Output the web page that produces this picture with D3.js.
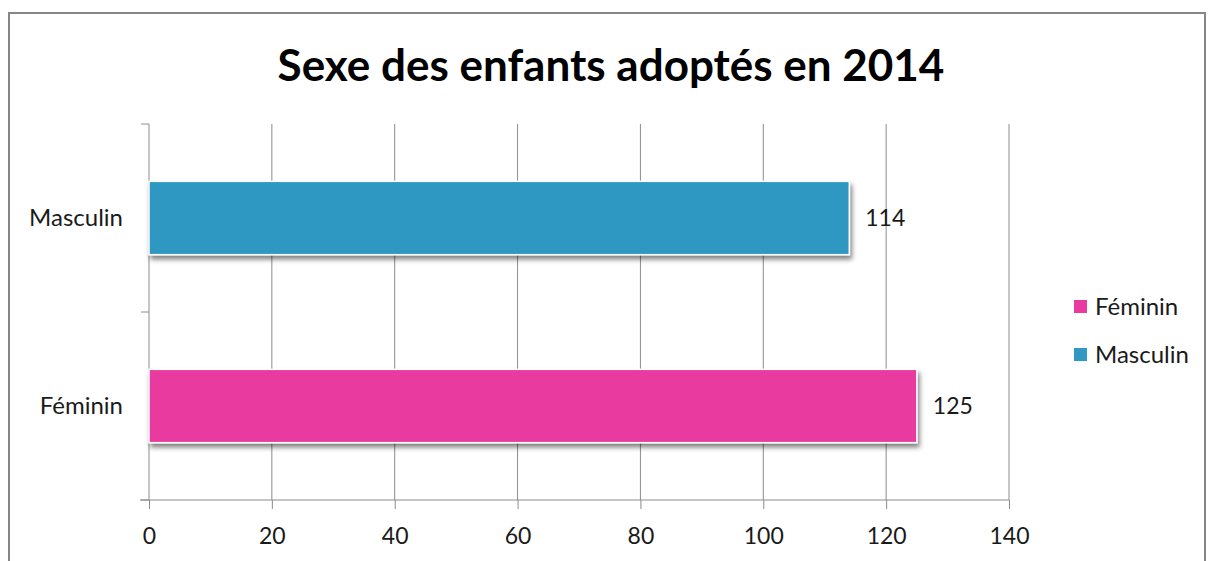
<!DOCTYPE html>
<html>
<head>
<meta charset="utf-8">
<script src="https://cdn.jsdelivr.net/npm/d3@7"></script>
<style>
  body { margin: 0; background: #fff; }
  svg text { font-family: Lato, "Open Sans", sans-serif; fill: #1a1a1a; }
</style>
</head>
<body>
<svg id="chart" width="1208" height="561"></svg>
<script>
// data
var categories = ["Masculin", "Féminin"];
var values = [114, 125];
var colors = ["#2f98c3", "#e93a9f"];
var legendLabels = ["Féminin", "Masculin"];
var legendColors = ["#e93a9f", "#2f98c3"];
var xTicks = [0, 20, 40, 60, 80, 100, 120, 140];

var svg = d3.select("#chart");
var plotLeft = 149, plotRight = 1009, plotTop = 124, plotBottom = 500;

// outer frame
svg.append("rect")
    .attr("x", 9).attr("y", 13)
    .attr("width", 1196).attr("height", 570)
    .attr("fill", "none")
    .attr("stroke", "#868686")
    .attr("stroke-width", 2);

svg.append("text")
    .attr("x", 611).attr("y", 81)
    .attr("text-anchor", "middle")
    .attr("font-size", 44)
    .attr("font-weight", "bold")
    .style("fill", "#000")
    .text("Sexe des enfants adoptés en 2014");

var defs = svg.append("defs");
var f = defs.append("filter").attr("id", "shadow")
    .attr("x", "-5%").attr("y", "-20%").attr("width", "115%").attr("height", "150%");
f.append("feGaussianBlur").attr("in", "SourceAlpha").attr("stdDeviation", 2.5);
f.append("feOffset").attr("dx", 2).attr("dy", 4).attr("result", "b");
f.append("feComponentTransfer").append("feFuncA").attr("type", "linear").attr("slope", 0.5);
var m = f.append("feMerge");
m.append("feMergeNode");
m.append("feMergeNode").attr("in", "SourceGraphic");

var x = d3.scaleLinear().domain([0, 140]).range([plotLeft, plotRight]);
var y = d3.scaleBand().domain(categories).range([plotTop, plotBottom]).paddingInner(0.61).paddingOuter(0.305);

// vertical grid lines
svg.append("g").selectAll("line")
    .data(xTicks.slice(1))
    .enter().append("line")
    .attr("x1", function(d){ return x(d); })
    .attr("x2", function(d){ return x(d); })
    .attr("y1", plotTop).attr("y2", plotBottom)
    .attr("stroke", "#8c8c8c").attr("stroke-width", 1);

// x axis
var xAxis = svg.append("g")
    .attr("transform", "translate(0," + plotBottom + ")")
    .call(d3.axisBottom(x).tickValues(xTicks).tickSize(9).tickPadding(19));
xAxis.select(".domain").remove();
xAxis.append("line").attr("x1", plotLeft - 9).attr("x2", plotRight).attr("stroke", "#8c8c8c");
xAxis.selectAll(".tick line").attr("stroke", "#8c8c8c");
xAxis.selectAll(".tick text").attr("font-size", 23).style("font-family", "Lato, sans-serif").style("fill", "#1a1a1a");

// y axis line + ticks between categories
svg.append("line")
    .attr("x1", plotLeft).attr("x2", plotLeft).attr("y1", plotTop).attr("y2", plotBottom)
    .attr("stroke", "#8c8c8c");
svg.append("g").selectAll("line")
    .data([plotTop, (plotTop + plotBottom) / 2, plotBottom])
    .enter().append("line")
    .attr("x1", plotLeft - 8).attr("x2", plotLeft)
    .attr("y1", function(d){ return d; }).attr("y2", function(d){ return d; })
    .attr("stroke", "#8c8c8c");

svg.append("g").selectAll("text")
    .data(categories)
    .enter().append("text")
    .attr("x", plotLeft - 26)
    .attr("y", function(d){ return y(d) + y.bandwidth() / 2; })
    .attr("dy", "0.35em")
    .attr("text-anchor", "end")
    .attr("font-size", 24)
    .text(function(d){ return d; });

// bars
svg.append("g").selectAll("rect")
    .data(values)
    .enter().append("rect")
    .attr("x", x(0))
    .attr("y", function(d, i){ return y(categories[i]); })
    .attr("width", function(d){ return x(d) - x(0); })
    .attr("height", y.bandwidth())
    .attr("fill", function(d, i){ return colors[i]; })
    .attr("stroke", "#ffffff")
    .attr("stroke-width", 1.5)
    .attr("filter", "url(#shadow)");

svg.append("g").selectAll("text")
    .data(values)
    .enter().append("text")
    .attr("x", function(d){ return x(d) + 16; })
    .attr("y", function(d, i){ return y(categories[i]) + y.bandwidth() / 2; })
    .attr("dy", "0.35em")
    .attr("font-size", 23)
    .text(function(d){ return d; });

// legend
var lg = svg.append("g").attr("transform", "translate(1074,300)");
legendLabels.forEach(function(l, i){
    lg.append("rect").attr("x", 0).attr("y", i * 48)
        .attr("width", 13).attr("height", 13)
        .attr("fill", legendColors[i]);
    lg.append("text").attr("x", 21).attr("y", i * 48 + 6.5)
        .attr("dy", "0.36em").attr("font-size", 24).text(l);
});
</script>
</body>
</html>
